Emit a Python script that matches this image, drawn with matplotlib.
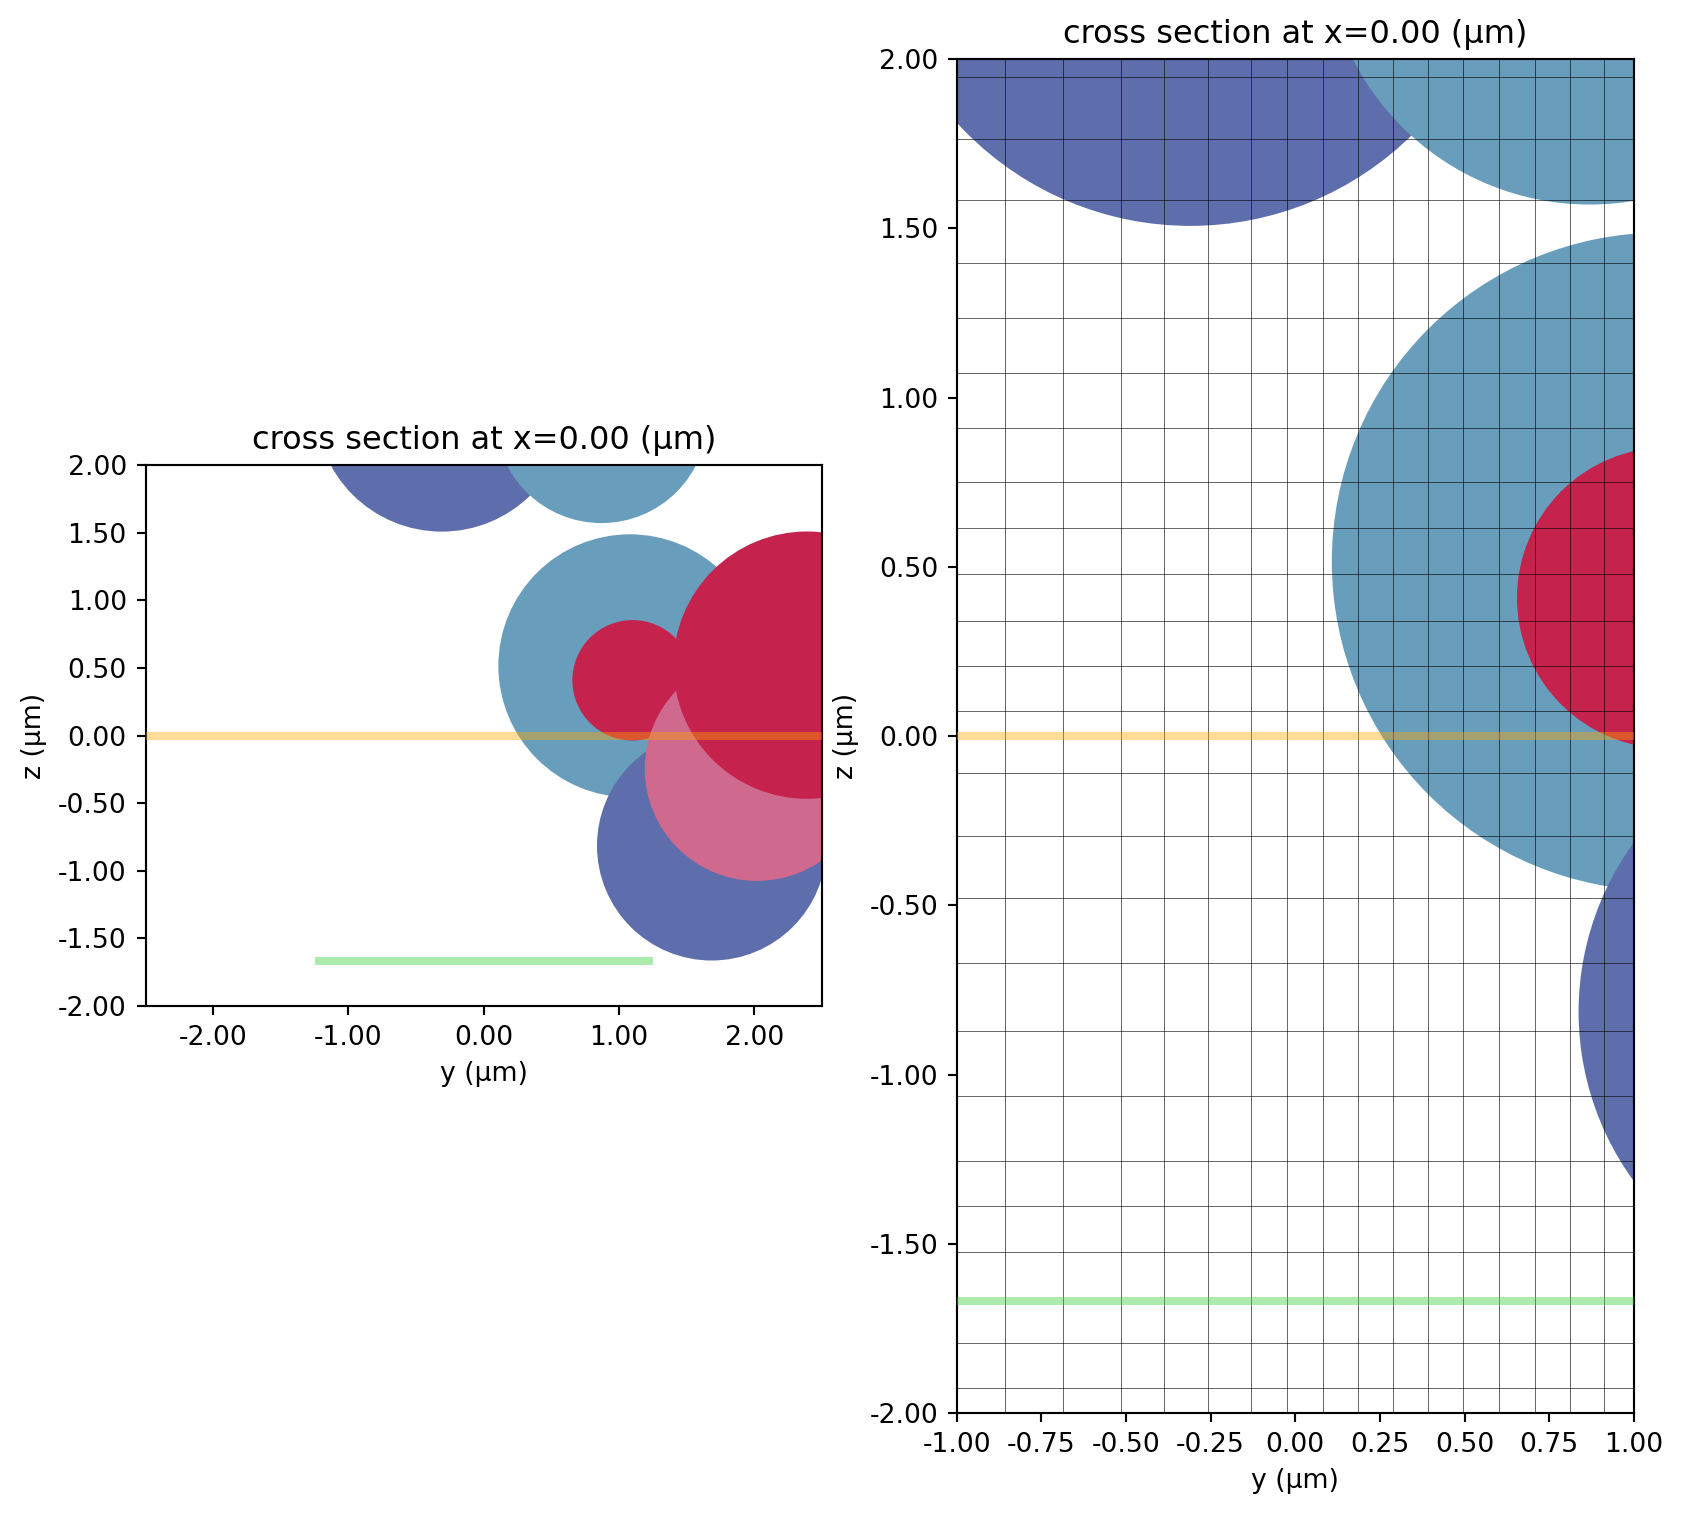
import matplotlib
matplotlib.use("Agg")
import matplotlib.pyplot as plt
from matplotlib.patches import Circle
from matplotlib.ticker import FormatStrFormatter

W, H, DPI = 1683, 1514, 192

# geometry (y, z, radius) in micrometres, draw order
circle_y = [-0.31, 0.87, 1.08, 1.10, 1.685, 2.02, 2.39]
circle_z = [2.44, 2.355, 0.515, 0.408, -0.815, -0.245, 0.52]
circle_r = [0.933, 0.785, 0.972, 0.445, 0.848, 0.83, 0.988]
circle_colors = ["#5E6DAB", "#689DBC", "#689DBC", "#C6224E", "#5E6DAB", "#D0698E", "#C6224E"]

monitor_z = 0.0
source_z = -1.67
source_span = [-1.25, 1.25]

grid_y = [-0.858, -0.685, -0.515, -0.388, -0.258, -0.131, -0.025, 0.081, 0.185,
          0.288, 0.391, 0.495, 0.603, 0.709, 0.812, 0.913]
grid_z = [1.948, 1.765, 1.582, 1.397, 1.235, 1.073, 0.910, 0.750, 0.614, 0.478,
          0.341, 0.208, 0.075, -0.108, -0.294, -0.479, -0.670, -0.871, -1.064,
          -1.255, -1.388, -1.523, -1.792, -1.925]

left_xticks = [-2, -1, 0, 1, 2]
right_xticks = [-1, -0.75, -0.5, -0.25, 0, 0.25, 0.5, 0.75, 1]
zticks = [-2, -1.5, -1, -0.5, 0, 0.5, 1, 1.5, 2]

title = "cross section at x=0.00 (µm)"
xlabel = "y (µm)"
ylabel = "z (µm)"


def axes_px(fig, x0, x1, y0, y1):
    return fig.add_axes([x0 / W, 1 - y1 / H, (x1 - x0) / W, (y1 - y0) / H])


def draw(ax, xlim, xticks):
    for y, z, r, c in zip(circle_y, circle_z, circle_r, circle_colors):
        ax.add_patch(Circle((y, z), r, facecolor=c, edgecolor="none", zorder=1))
    ax.plot(xlim, [monitor_z, monitor_z], color="#FFA500", alpha=0.4, lw=3,
            solid_capstyle="butt", zorder=3)
    ax.plot(source_span, [source_z, source_z], color="#32CD32", alpha=0.4, lw=3,
            solid_capstyle="butt", zorder=3)
    ax.set_xlim(xlim)
    ax.set_ylim(-2, 2)
    ax.set_aspect("equal")
    ax.set_xticks(xticks)
    ax.set_yticks(zticks)
    ax.xaxis.set_major_formatter(FormatStrFormatter("%.2f"))
    ax.yaxis.set_major_formatter(FormatStrFormatter("%.2f"))
    ax.set_title(title)
    ax.set_xlabel(xlabel)
    ax.set_ylabel(ylabel)


fig = plt.figure(figsize=(W / DPI, H / DPI), dpi=DPI)
ax1 = axes_px(fig, 145.5, 822, 464.5, 1006.5)
draw(ax1, [-2.5, 2.5], left_xticks)
ax2 = axes_px(fig, 956.5, 1634, 59, 1413)
draw(ax2, [-1, 1], right_xticks)
for y in grid_y:
    ax2.axvline(y, color="black", lw=0.22, zorder=2)
for z in grid_z:
    ax2.axhline(z, color="black", lw=0.22, zorder=2)

fig.savefig("out.png", dpi=DPI)
